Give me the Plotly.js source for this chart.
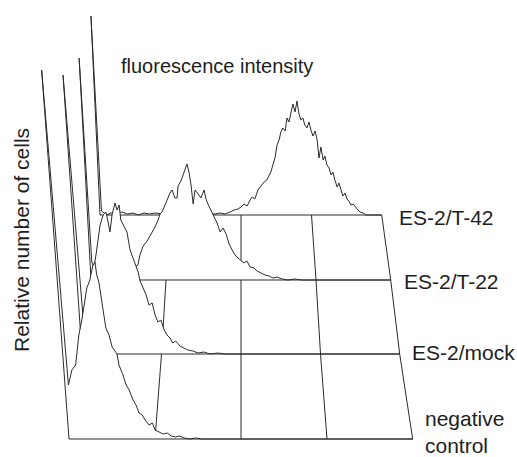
<!DOCTYPE html>
<html><head><meta charset="utf-8">
<script src="https://cdn.plot.ly/plotly-3.0.1.min.js"></script>
<style>html,body{margin:0;padding:0;background:#fff}#chart{width:517px;height:457px}</style>
</head><body><div id="chart"></div>
<script>
// ---- data: fluorescence channel (0-1023, 4-decade log scale) and relative cell counts ----
const sampleLabels = ["ES-2/T-42", "ES-2/T-22", "ES-2/mock", "negative<br>control"];
const decadeTicks = [256, 512, 768, 1023];

const t42Channel = [0, 6, 14, 25, 40, 60, 80, 100, 120, 140, 160, 180, 200, 230, 260, 290, 320, 350, 380, 418, 436, 454, 472, 487, 501, 512, 523, 534, 545, 552, 562, 573, 584, 595, 605, 613, 619, 626, 633, 640, 647, 653, 660, 668, 674, 681, 688, 694, 702, 708, 716, 723, 730, 737, 745, 752, 759, 767, 774, 782, 790, 796, 805, 811, 819, 827, 835, 841, 849, 858, 864, 872, 880, 887, 895, 902, 910, 918, 926, 933, 944, 955, 966];
const t42Count = [199, 4, 2, 0, 2, 1, 3, 1, 2, 0, 2, 1, 2, 1, 2, 1, 2, 1, 2, 1, 2, 1, 3, 5, 6, 8, 11, 9, 15, 18, 16, 25, 29, 33, 35, 39, 43, 50, 57, 70, 75, 83, 87, 84, 97, 93, 105, 111, 103, 114, 101, 95, 97, 90, 87, 93, 85, 79, 84, 75, 57, 68, 55, 59, 50, 47, 40, 43, 35, 28, 32, 25, 19, 22, 16, 14, 10, 11, 8, 6, 3, 2, 0];

const t22Channel = [0, 6, 15, 30, 45, 60, 75, 90, 105, 120, 135, 150, 162, 170, 182, 196, 206, 217, 224, 235, 242, 249, 259, 266, 277, 284, 293, 300, 304, 314, 321, 328, 335, 341, 347, 353, 360, 370, 379, 390, 396, 402, 412, 422, 432, 442, 452, 462, 472, 482, 492, 502, 512, 522, 532, 543, 556, 567, 580, 594, 608, 621, 635, 652, 672, 696, 720];
const t22Count = [222, 18, 10, 14, 9, 12, 8, 11, 9, 12, 10, 13, 15, 25, 34, 39, 44, 49, 53, 60, 66, 68, 75, 79, 87, 90, 82, 82, 94, 99, 105, 110, 116, 108, 95, 76, 90, 86, 82, 90, 81, 76, 70, 63, 57, 48, 52, 46, 36, 30, 25, 22, 19, 17, 19, 13, 12, 9, 7, 5, 4, 2, 3, 1, 0, 1, 0];

const mockChannel = [0, 12, 27, 40, 52, 64, 73, 82, 93, 102, 107, 111, 120, 131, 136, 143, 146, 155, 163, 170, 178, 186, 192, 197, 205, 214, 222, 232, 240, 248, 258, 267, 276, 285, 293, 303, 316, 328, 341, 357, 374, 393, 412, 438, 460];
const mockCount = [279, 24, 54, 69, 82, 99, 114, 129, 139, 142, 132, 122, 139, 151, 144, 149, 134, 127, 122, 104, 96, 89, 82, 73, 66, 59, 49, 51, 39, 32, 34, 24, 19, 16, 11, 13, 8, 6, 4, 3, 1, 2, 0, 1, 0];

const negChannel = [0, 10, 23, 35, 50, 60, 73, 81, 91, 101, 108, 111, 116, 121, 125, 128, 136, 143, 156, 160, 170, 178, 186, 196, 204, 212, 221, 229, 240, 250, 257, 269, 281, 293, 305, 317, 329, 344, 359, 377, 395];
const negCount = [369, 54, 69, 74, 104, 117, 139, 151, 159, 173, 177, 164, 156, 139, 126, 111, 104, 92, 85, 74, 64, 54, 49, 39, 34, 26, 24, 19, 14, 16, 9, 7, 5, 6, 3, 2, 3, 1, 0, 1, 0];

// ---- pseudo-3D projection of the stacked histograms (layout only) ----
const MAX_CH = 1023, CH_PER_DECADE = 256, VANISH_X = 241;
const rows = [
  {ch: t42Channel, cnt: t42Count, base: 215, decade: 70.5, depth: 3100, label: {x: 397, y: 217}},
  {ch: t22Channel, cnt: t22Count, base: 280, decade: 75, depth: 2800, label: {x: 402, y: 281}},
  {ch: mockChannel, cnt: mockCount, base: 354, decade: 79.5, depth: 2335, label: {x: 410, y: 352}},
  {ch: negChannel, cnt: negCount, base: 439, decade: 86, depth: 2320, label: {x: 423, y: 432}}
];
function project(r, ch, cnt) {
  const xb = VANISH_X + (ch / CH_PER_DECADE - 2) * r.decade;
  return [xb + (xb - VANISH_X) * cnt / r.depth, r.base - cnt];
}
const LINE = {color: '#2b2b2b', width: 1};
const traces = [];
rows.forEach((r, i) => {
  const xs = [], ys = [];
  const pts = [[0, 0]].concat(r.ch.map((c, k) => [c, r.cnt[k]]), [[MAX_CH, 0], [0, 0]]);
  pts.forEach(p => { const q = project(r, p[0], p[1]); xs.push(q[0]); ys.push(q[1]); });
  traces.push({type: 'scatter', mode: 'lines', x: xs, y: ys, fill: 'toself', fillcolor: '#ffffff',
    line: LINE, hoverinfo: 'skip'});
  if (i < rows.length - 1) {
    const n = rows[i + 1], gx = [], gy = [];
    decadeTicks.forEach(t => {
      const a = project(r, t, 0), b = project(n, t, 0);
      gx.push(a[0], b[0], null); gy.push(a[1], b[1], null);
    });
    traces.push({type: 'scatter', mode: 'lines', x: gx, y: gy, line: LINE, hoverinfo: 'skip'});
  }
});

const FONT = {family: 'Liberation Sans, Arial, Helvetica, sans-serif', size: 21, color: '#1e1e1e'};
const annotations = rows.map((r, i) => ({
  text: sampleLabels[i], x: r.label.x, y: r.label.y, xref: 'x', yref: 'y',
  xanchor: 'left', yanchor: 'middle', align: 'left', showarrow: false, font: FONT
}));
annotations.push({text: 'fluorescence intensity', x: 119, y: 66, xref: 'x', yref: 'y',
  xanchor: 'left', yanchor: 'middle', showarrow: false, font: Object.assign({}, FONT, {size: 20})});
annotations.push({text: 'Relative number of cells', x: 21, y: 240, xref: 'x', yref: 'y',
  xanchor: 'center', yanchor: 'middle', textangle: -90, showarrow: false, font: FONT});

const layout = {
  width: 517, height: 457, margin: {l: 0, r: 0, t: 0, b: 0},
  paper_bgcolor: '#ffffff', plot_bgcolor: '#ffffff', showlegend: false,
  xaxis: {range: [0, 517], visible: false, fixedrange: true},
  yaxis: {range: [457, 0], visible: false, fixedrange: true},
  annotations: annotations
};
Plotly.newPlot('chart', traces, layout, {staticPlot: true, displayModeBar: false});
</script></body></html>
